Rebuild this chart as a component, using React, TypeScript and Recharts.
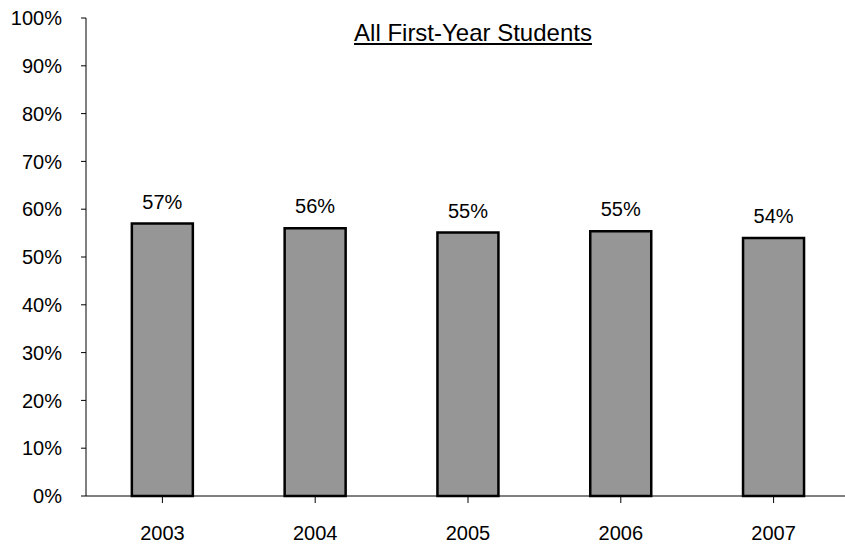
import { BarChart, Bar, XAxis, YAxis, LabelList } from 'recharts';

const years = ['2003', '2004', '2005', '2006', '2007'];
const returnRates = [0.57, 0.56, 0.551, 0.554, 0.54];
const yTicks = [0, 0.1, 0.2, 0.3, 0.4, 0.5, 0.6, 0.7, 0.8, 0.9, 1];

const data = years.map((year, i) => ({ year, rate: returnRates[i] }));

const FONT = 'Arial, "Liberation Sans", sans-serif';
const pct = (v: number) => `${Math.round(v * 100)}%`;

function BarValue(props: any) {
  const { x, y, width, value } = props;
  return (
    <text x={x + width / 2} y={y - 15} textAnchor="middle" fontFamily={FONT} fontSize={20} fill="#000">
      {pct(value)}
    </text>
  );
}

export default function App() {
  return (
    <div style={{ position: 'absolute', left: 0, top: 0, width: 845, height: 547, overflow: 'hidden', background: '#fff' }}>
      <div
        style={{
          position: 'absolute',
          left: 273,
          width: 400,
          top: 19,
          textAlign: 'center',
          fontFamily: FONT,
          fontSize: 24,
          lineHeight: '28px',
          textDecoration: 'underline',
          color: '#000',
        }}
      >
        All First-Year Students
      </div>
      <BarChart
        width={850}
        height={547}
        data={data}
        margin={{ top: 18, right: 0, left: 0, bottom: 0 }}
        barCategoryGap="30%"
      >
        <XAxis
          dataKey="year"
          height={51}
          tickSize={7}
          tickMargin={23}
          stroke="#000"
          tick={{ fill: '#000', fontSize: 20, fontFamily: FONT }}
        />
        <YAxis
          width={86}
          domain={[0, 1]}
          ticks={yTicks}
          interval={0}
          tickFormatter={pct}
          tickSize={5}
          tickMargin={19}
          stroke="#000"
          tick={{ fill: '#000', fontSize: 20, fontFamily: FONT }}
        />
        <Bar dataKey="rate" fill="#969696" stroke="#000" strokeWidth={2.5} isAnimationActive={false}>
          <LabelList dataKey="rate" content={BarValue} />
        </Bar>
      </BarChart>
    </div>
  );
}
